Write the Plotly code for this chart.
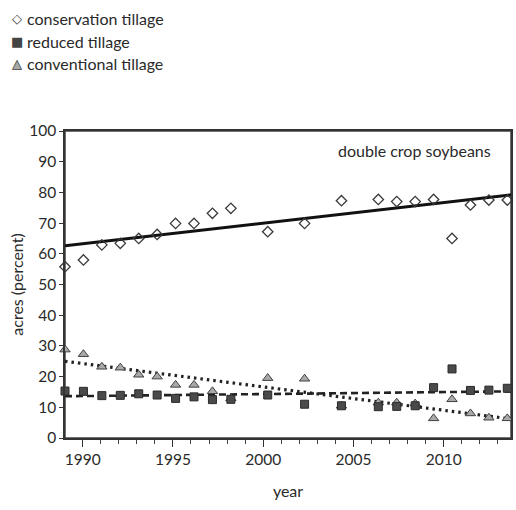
import plotly.graph_objects as go

# Survey years and share of double-crop soybean acres by tillage practice (percent)
years = [1989, 1990, 1991, 1992, 1993, 1994, 1995, 1996, 1997, 1998,
         2000, 2002, 2004, 2006, 2007, 2008, 2009, 2010, 2011, 2012, 2013]
conservation = [55.8, 58.0, 62.9, 63.4, 65.0, 66.3, 69.9, 69.9, 73.2, 74.8,
                67.2, 69.9, 77.3, 77.7, 77.0, 77.0, 77.7, 65.0, 75.9, 77.5, 77.5]
reduced = [15.3, 15.2, 13.8, 13.9, 14.4, 14.0, 12.9, 13.4, 12.5, 12.6,
           14.0, 11.0, 10.5, 10.2, 10.3, 10.5, 16.4, 22.5, 15.5, 15.6, 16.2]
conventional = [28.8, 27.3, 23.2, 22.9, 20.6, 20.0, 17.3, 17.3, 15.2, 12.9,
                19.5, 19.3, 10.5, 11.5, 11.5, 11.2, 6.4, 12.6, 8.0, 6.6, 6.4]

# Linear trend lines (start and end of the period)
trend_years = [1989.0, 2013.2]
trend_conservation = [62.6, 79.2]
trend_reduced = [13.6, 15.2]
trend_conventional = [25.0, 6.2]

tick_years = [1990, 1995, 2000, 2005, 2010]

FONT = "Lato"
TXT = "#2a2a2a"
FS = 16

fig = go.Figure()

# empty trace so the labelled year axis owns a subplot
fig.add_trace(go.Scatter(x=[None], y=[None], mode="markers", showlegend=False, hoverinfo="skip"))

# trend lines
fig.add_trace(go.Scatter(x=trend_years, y=trend_conservation, mode="lines", xaxis="x2",
                         line=dict(color="#111", width=3), showlegend=False, hoverinfo="skip"))
fig.add_trace(go.Scatter(x=trend_years, y=trend_conventional, mode="lines", xaxis="x2",
                         line=dict(color="#222", width=3.2, dash="2.5px,4px"),
                         showlegend=False, hoverinfo="skip"))
fig.add_trace(go.Scatter(x=trend_years, y=trend_reduced, mode="lines", xaxis="x2",
                         line=dict(color="#222", width=2.6, dash="7px,4px"),
                         showlegend=False, hoverinfo="skip"))

# observations
fig.add_trace(go.Scatter(x=years, y=conventional, mode="markers", xaxis="x2",
                         name="conventional tillage", cliponaxis=False,
                         marker=dict(symbol="triangle-up", size=9, color="#a9a9a9",
                                     line=dict(color="#404040", width=1))))
fig.add_trace(go.Scatter(x=years, y=reduced, mode="markers", xaxis="x2",
                         name="reduced tillage", cliponaxis=False,
                         marker=dict(symbol="square", size=8, color="#4a4a4a",
                                     line=dict(color="#2a2a2a", width=1))))
fig.add_trace(go.Scatter(x=years, y=conservation, mode="markers", xaxis="x2",
                         name="conservation tillage", cliponaxis=False,
                         marker=dict(symbol="diamond-open", size=8, color="#3a3a3a",
                                     line=dict(width=1.3))))

# legend rows drawn as glyph + label
legend_rows = [
    ("conservation tillage", "◇", "#333333", 18),
    ("reduced tillage", "■", "#444444", 41),
    ("conventional tillage", "▲", "#a9a9a9", 64),
]
L, T, PW, PH = 65, 131, 448, 307


def px_x(px):
    return (px - L) / PW


def px_y(py):
    return (T + PH - py) / PH


annotations = []
for label, glyph, col, ypx in legend_rows:
    annotations.append(dict(x=px_x(16.5), y=px_y(ypx), xref="paper", yref="paper",
                            text=glyph, showarrow=False, xanchor="center", yanchor="middle",
                            font=dict(family="DejaVu Sans", size=13, color=col)))
    if glyph == "▲":
        annotations.append(dict(x=px_x(16.5), y=px_y(ypx), xref="paper", yref="paper",
                                text="△", showarrow=False, xanchor="center", yanchor="middle",
                                font=dict(family="DejaVu Sans", size=13, color="#444")))
    annotations.append(dict(x=px_x(25), y=px_y(ypx), xref="paper", yref="paper",
                            text=label, showarrow=False, xanchor="left", yanchor="middle",
                            font=dict(family=FONT, size=FS, color=TXT)))

annotations.append(dict(x=px_x(495), y=px_y(150), xref="paper", yref="paper",
                        text="double crop soybeans", showarrow=False,
                        xanchor="right", yanchor="middle",
                        font=dict(family=FONT, size=FS, color=TXT)))

# plot frame
shapes = [dict(type="rect", xref="paper", yref="paper", x0=0, x1=1, y0=0, y1=1,
               line=dict(color="#444", width=1.5), fillcolor="rgba(0,0,0,0)", layer="below")]

fig.update_layout(
    width=516, height=510,
    margin=dict(l=L, r=516 - L - PW, t=T, b=510 - T - PH),
    paper_bgcolor="white", plot_bgcolor="white",
    showlegend=False,
    font=dict(family=FONT, size=FS, color=TXT),
    annotations=annotations,
    shapes=shapes,
    xaxis=dict(
        range=[1989.02, 2013.73], tickvals=tick_years,
        ticks="outside", ticklen=7, tickwidth=1.3, tickcolor="#333",
        minor=dict(dtick=1, tick0=1989, ticks="outside", ticklen=4, tickwidth=1, tickcolor="#444"),
        showline=True, linecolor="#333", linewidth=1.5, mirror=True,
        showgrid=False, zeroline=False,
        tickfont=dict(family=FONT, size=15.5, color=TXT),
        title=dict(text="year", font=dict(family=FONT, size=FS, color=TXT), standoff=18),
    ),
    xaxis2=dict(range=[1989.0, 2013.2], overlaying="x", visible=False, showgrid=False),
    yaxis=dict(
        range=[0, 100], dtick=10,
        ticks="outside", ticklen=4, tickwidth=1.2, tickcolor="#333",
        showline=True, linecolor="#333", linewidth=1.5, mirror=True,
        showgrid=False, zeroline=False,
        tickfont=dict(family=FONT, size=15.5, color=TXT),
        title=dict(text="acres (percent)", font=dict(family=FONT, size=FS, color=TXT), standoff=2),
    ),
)

fig.write_html("out.html")
